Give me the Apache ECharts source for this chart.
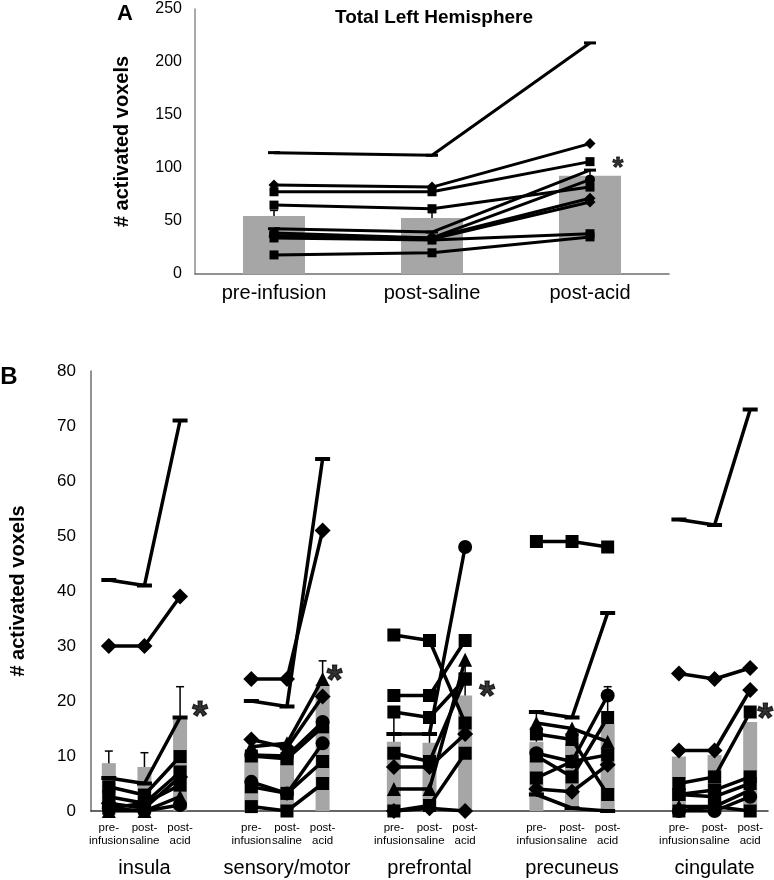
<!DOCTYPE html>
<html><head><meta charset="utf-8">
<script src="https://cdn.jsdelivr.net/npm/echarts@6/dist/echarts.min.js"></script>
<style>html,body{margin:0;padding:0;background:#fff}#c{width:774px;height:880px}</style>
</head><body><div id="c"></div>
<script>
// ---------------- DATA ----------------
const conditions = ['pre-infusion', 'post-saline', 'post-acid'];
const conditionShort = ['pre-\ninfusion', 'post-\nsaline', 'post-\nacid'];

// Panel A: Total Left Hemisphere
const totalBars = [54.7, 52.8, 92.7];
const totalErr = [60, 58, 98];
const totalSubjects = [
  [114.5, 112, 218],
  [84, 82, 123],
  [77.6, 77.6, 106],
  [65, 61.6, 82],
  [42.7, 39.6, 98],
  [38.7, 34, 89],
  [36, 34, 71.4],
  [35, 33, 68],
  [34, 32, 38],
  [18, 20, 35]
];
const totalStar = 105.7;

// Panel B: regions
const regions = ['insula', 'sensory/motor', 'prefrontal', 'precuneus', 'cingulate'];

const insulaBars = [8.7, 8.0, 16.7];
const insulaErr = [10.9, 10.6, 22.6];
const insulaSubjects = [
  [42, 41, 71], [30, 30, 39], [6, 5, 17], [4.4, 2.9, 9.9], [2.6, 1.4, 7.1],
  [1.4, 0.5, 6.2], [0.5, 1.4, 4.7], [0, 0, 2.6], [0.5, 0, 1.1]
];

const sensoryBars = [10.1, 9.6, 23];
const sensoryErr = [10.1, 9.6, 27.3];
const sensorySubjects = [
  [20, 19, 64], [24, 24, 51], [13, 11.5, 20.8], [11.7, 12.3, 24], [10.2, 10, 16.2],
  [10, 9.5, 15.3], [5.3, 3.2, 12.3], [4.4, 3.2, 9], [0.8, 0, 5]
];

const prefrontalBars = [12.6, 12.4, 21];
const prefrontalErr = [17.8, 14, 26.5];
const prefrontalSubjects = [
  [32, 31, 16], [21, 21, 31], [18, 17, 24], [14, 14, 48], [4, 4, 27.5],
  [10.5, 9, 24], [8, 8, 14], [0, 1, 10.5], [0, 0.5, 0]
];

const precuneusBars = [12.6, 12.3, 15.8];
const precuneusErr = [18, 12.3, 22.6];
const precuneusSubjects = [
  [49, 49, 48], [18, 17, 36], [16, 15, 12.6], [14, 13, 3], [10.5, 9, 21],
  [10, 6.2, 17], [6, 9, 10.2], [4, 3.5, 8.4], [3, 0.5, 0]
];

const cingulateBars = [9.9, 10.2, 16.2];
const cingulateErr = [9.9, 10.2, 16.2];
const cingulateSubjects = [
  [53, 52, 73], [25, 24, 26], [11, 11, 22], [5, 6.2, 18], [3, 3.8, 6.2],
  [3, 2.6, 5], [0.8, 0.8, 3.8], [0, 0, 2.6], [0, 0.8, 0]
];

const regionStars = [18.7, 25.3, 22.4, null, 18.4];

// ---------------- STYLE (markers, offsets) ----------------
const totalMarkers = ['dash', 'diamond', 'square', 'square', 'dash', 'circle', 'diamond', 'diamond', 'square', 'square'];
const insulaMarkers = ['dash', 'diamond', 'dash', 'square', 'square', 'diamond', 'square', 'triangle', 'circle'];
const sensoryMarkers = ['dash', 'diamond', 'diamond', 'triangle', 'circle', 'square', 'circle', 'square', 'square'];
const prefrontalMarkers = ['square', 'square', 'square', ['dash', 'dash', 'circle'], 'triangle', 'square', 'diamond', 'square', 'diamond'];
const precuneusMarkers = ['square', 'dash', 'triangle', 'square', 'circle', 'square', 'square', 'diamond', 'dash'];
const cingulateMarkers = ['dash', 'diamond', 'diamond', 'square', 'square', 'square', 'triangle', 'circle', 'square'];
const starDx = [20, 12, 22, 0, 15];

// ---------------- BUILD ----------------
const FONT = 'Liberation Sans, Arial, sans-serif';
const regionBarsAll = [insulaBars, sensoryBars, prefrontalBars, precuneusBars, cingulateBars];
const regionErrAll = [insulaErr, sensoryErr, prefrontalErr, precuneusErr, cingulateErr];
const regionSubjAll = [insulaSubjects, sensorySubjects, prefrontalSubjects, precuneusSubjects, cingulateSubjects];
const regionMarkAll = [insulaMarkers, sensoryMarkers, prefrontalMarkers, precuneusMarkers, cingulateMarkers];

function symInfo(m, big) {
  switch (m) {
    case 'square': return ['rect', big ? 13 : 9];
    case 'diamond': return ['diamond', big ? 16 : 11];
    case 'circle': return ['circle', big ? 14 : 10];
    case 'triangle': return ['triangle', big ? 14 : 10];
    case 'dash': return ['rect', big ? [15, 4] : [12, 3]];
    default: return ['none', 1];
  }
}
function markOf(mk, c) { return Array.isArray(mk) ? mk[c] : mk; }

// slots for panel B
const slots = [];
regions.forEach((r, ri) => {
  conditions.forEach((c, ci) => slots.push({ r: ri, c: ci, id: ri + '_' + ci }));
  if (ri < regions.length - 1) slots.push({ gap: true, id: 'gap' + ri });
});
const slotIds = slots.map(s => s.id);
const slotIndex = (r, c) => slots.findIndex(s => !s.gap && s.r === r && s.c === c);

function errRender(params, api) {
  const x = api.value(0), lo = api.value(1), hi = api.value(2);
  const p0 = api.coord([x, lo]), p1 = api.coord([x, hi]);
  return {
    type: 'group', children: [
      { type: 'line', shape: { x1: p0[0], y1: p0[1], x2: p1[0], y2: p1[1] }, style: { stroke: '#000', lineWidth: 1.5 } },
      { type: 'line', shape: { x1: p1[0] - 4, y1: p1[1], x2: p1[0] + 4, y2: p1[1] }, style: { stroke: '#000', lineWidth: 1.5 } }
    ]
  };
}

const series = [];
// Panel A
series.push({
  type: 'bar', xAxisIndex: 0, yAxisIndex: 0, data: totalBars, barWidth: 62,
  itemStyle: { color: '#a6a6a6' }, z: 1, silent: true
});
series.push({
  type: 'custom', xAxisIndex: 0, yAxisIndex: 0, z: 2, silent: true,
  data: totalBars.map((b, i) => [i, b, totalErr[i]]), encode: { x: 0, y: [1, 2] },
  renderItem: errRender
});
totalSubjects.forEach((subj, k) => {
  const si = symInfo(totalMarkers[k], false);
  series.push({
    type: 'line', xAxisIndex: 0, yAxisIndex: 0, data: subj, z: 3, silent: true,
    lineStyle: { color: '#000', width: 3 }, itemStyle: { color: '#000' },
    symbol: si[0], symbolSize: si[1], showSymbol: true
  });
});
series.push({
  type: 'scatter', xAxisIndex: 0, yAxisIndex: 0, z: 4, silent: true,
  data: [[2, totalStar]], symbolSize: 1, itemStyle: { color: 'rgba(0,0,0,0)' },
  label: { show: true, formatter: '*', position: 'inside', offset: [28, 6], fontSize: 28, fontWeight: 'bold', fontFamily: FONT, color: '#000', textBorderColor: '#000', textBorderWidth: 0.8 }
});

// Panel B bars
series.push({
  type: 'bar', xAxisIndex: 1, yAxisIndex: 1, barWidth: 14, z: 1, silent: true,
  data: slots.map(s => s.gap ? '-' : regionBarsAll[s.r][s.c]),
  itemStyle: { color: '#a6a6a6' }
});
const errB = [];
slots.forEach((s, i) => {
  if (s.gap) return;
  const b = regionBarsAll[s.r][s.c], e = regionErrAll[s.r][s.c];
  if (e > b) errB.push([i, b, e]);
});
series.push({
  type: 'custom', xAxisIndex: 1, yAxisIndex: 1, z: 2, silent: true,
  data: errB, encode: { x: 0, y: [1, 2] }, renderItem: errRender
});
const maxSubj = Math.max(...regionSubjAll.map(a => a.length));
for (let k = 0; k < maxSubj; k++) {
  series.push({
    type: 'line', xAxisIndex: 1, yAxisIndex: 1, z: 3, silent: true,
    data: slots.map(s => {
      if (s.gap) return '-';
      const subj = regionSubjAll[s.r][k];
      return subj ? subj[s.c] : '-';
    }),
    lineStyle: { color: '#000', width: 3.5 }, itemStyle: { color: '#000' },
    showSymbol: true,
    symbol: (v, p) => {
      const s = slots[p.dataIndex];
      if (s.gap || !regionMarkAll[s.r][k]) return 'none';
      return symInfo(markOf(regionMarkAll[s.r][k], s.c), true)[0];
    },
    symbolSize: (v, p) => {
      const s = slots[p.dataIndex];
      if (s.gap || !regionMarkAll[s.r][k]) return 1;
      return symInfo(markOf(regionMarkAll[s.r][k], s.c), true)[1];
    }
  });
}
series.push({
  type: 'scatter', xAxisIndex: 1, yAxisIndex: 1, z: 4, silent: true, symbolSize: 1,
  itemStyle: { color: 'rgba(0,0,0,0)' },
  data: regionStars.map((v, r) => v == null ? null : {
    value: [slotIndex(r, 2), v],
    label: { offset: [starDx[r], 10] }
  }).filter(d => d),
  label: { show: true, formatter: '*', position: 'inside', fontSize: 40, fontWeight: 'bold', fontFamily: FONT, color: '#000', textBorderColor: '#000', textBorderWidth: 1.2 }
});

const option = {
  animation: false,
  textStyle: { fontFamily: FONT },
  grid: [
    { left: 195, top: 9, width: 474, height: 265 },
    { left: 83, top: 371, width: 685, height: 440 }
  ],
  xAxis: [
    {
      gridIndex: 0, type: 'category', data: conditions, position: 'bottom',
      axisLine: { lineStyle: { color: '#6e6e6e', width: 1.5 } }, axisTick: { show: false },
      axisLabel: { color: '#000', fontSize: 20, margin: 9, fontFamily: FONT }
    },
    {
      gridIndex: 1, type: 'category', data: slotIds, position: 'bottom',
      axisLine: { lineStyle: { color: '#333', width: 1.5 } }, axisTick: { show: false },
      axisLabel: {
        interval: 0, color: '#000', fontSize: 11.5, lineHeight: 13, margin: 10, fontFamily: FONT,
        formatter: id => { const s = slots.find(t => t.id === id); return s.gap ? '' : conditionShort[s.c]; }
      }
    },
    {
      gridIndex: 1, type: 'category', data: slotIds, position: 'bottom', offset: 0,
      axisLine: { show: false }, axisTick: { show: false },
      axisLabel: {
        interval: 0, color: '#000', fontSize: 20, margin: 47, fontFamily: FONT,
        formatter: id => { const s = slots.find(t => t.id === id); return (!s.gap && s.c === 1) ? regions[s.r] : ''; }
      }
    }
  ],
  yAxis: [
    {
      gridIndex: 0, type: 'value', min: 0, max: 250, interval: 50,
      splitLine: { show: false },
      axisLine: { show: true, lineStyle: { color: '#8c8c8c', width: 1.5 } }, axisTick: { show: false },
      axisLabel: { color: '#000', fontSize: 16, margin: 13, fontFamily: FONT },
      name: '# activated voxels', nameLocation: 'middle', nameRotate: 90, nameGap: 63,
      nameTextStyle: { fontSize: 20, fontWeight: 'bold', color: '#000', fontFamily: FONT }
    },
    {
      gridIndex: 1, type: 'value', min: 0, max: 80, interval: 10,
      splitLine: { show: false },
      axisLine: { show: true, lineStyle: { color: '#6e6e6e', width: 1.5 } }, axisTick: { show: false },
      axisLabel: { color: '#000', fontSize: 17, margin: 15, fontFamily: FONT },
      name: '# activated voxels', nameLocation: 'middle', nameRotate: 90, nameGap: 63,
      nameTextStyle: { fontSize: 20, fontWeight: 'bold', color: '#000', fontFamily: FONT }
    }
  ],
  graphic: [
    { type: 'text', x: 434, y: 18, style: { text: 'Total Left Hemisphere', font: 'bold 19px ' + FONT, fill: '#000', textAlign: 'center', textVerticalAlign: 'middle' } },
    { type: 'text', x: 125, y: 14, style: { text: 'A', font: 'bold 22px ' + FONT, fill: '#000', textAlign: 'center', textVerticalAlign: 'middle' } },
    { type: 'text', x: 9, y: 377, style: { text: 'B', font: 'bold 24px ' + FONT, fill: '#000', textAlign: 'center', textVerticalAlign: 'middle' } }
  ],
  series: series
};
const chart = echarts.init(document.getElementById('c'));
chart.setOption(option);
</script>
</body></html>
